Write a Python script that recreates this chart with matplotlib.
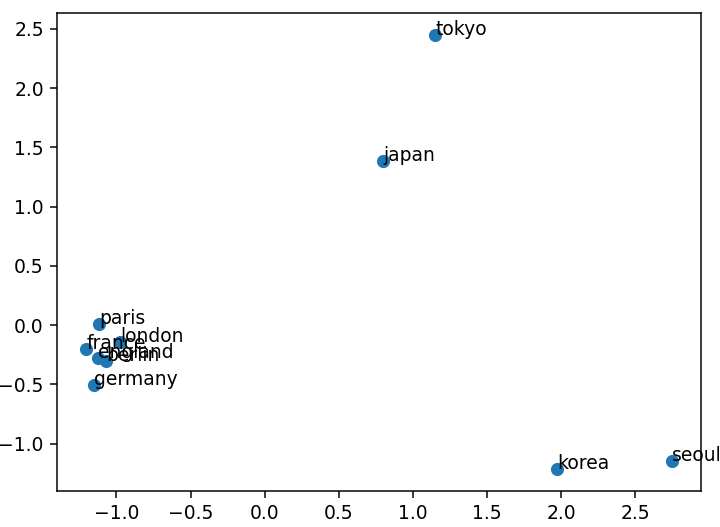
import matplotlib
matplotlib.use("Agg")
import matplotlib.pyplot as plt

words = ["tokyo", "japan", "paris", "london", "france", "england", "berlin",
         "germany", "korea", "seoul"]
xs = [1.15, 0.80, -1.117, -0.977, -1.204, -1.127, -1.07, -1.154, 1.97, 2.747]
ys = [2.449, 1.387, 0.01, -0.139, -0.20, -0.277, -0.30, -0.502, -1.218, -1.143]

# rendered at 135 dpi so text/markers match the reference scale
fig, ax = plt.subplots(figsize=(720 / 135, 527 / 135), dpi=135)
fig.subplots_adjust(left=0.079, right=0.974, top=0.975, bottom=0.068)
ax.scatter(xs, ys)
for w, x, y in zip(words, xs, ys):
    ax.annotate(w, (x, y))

fig.savefig("out.png")
